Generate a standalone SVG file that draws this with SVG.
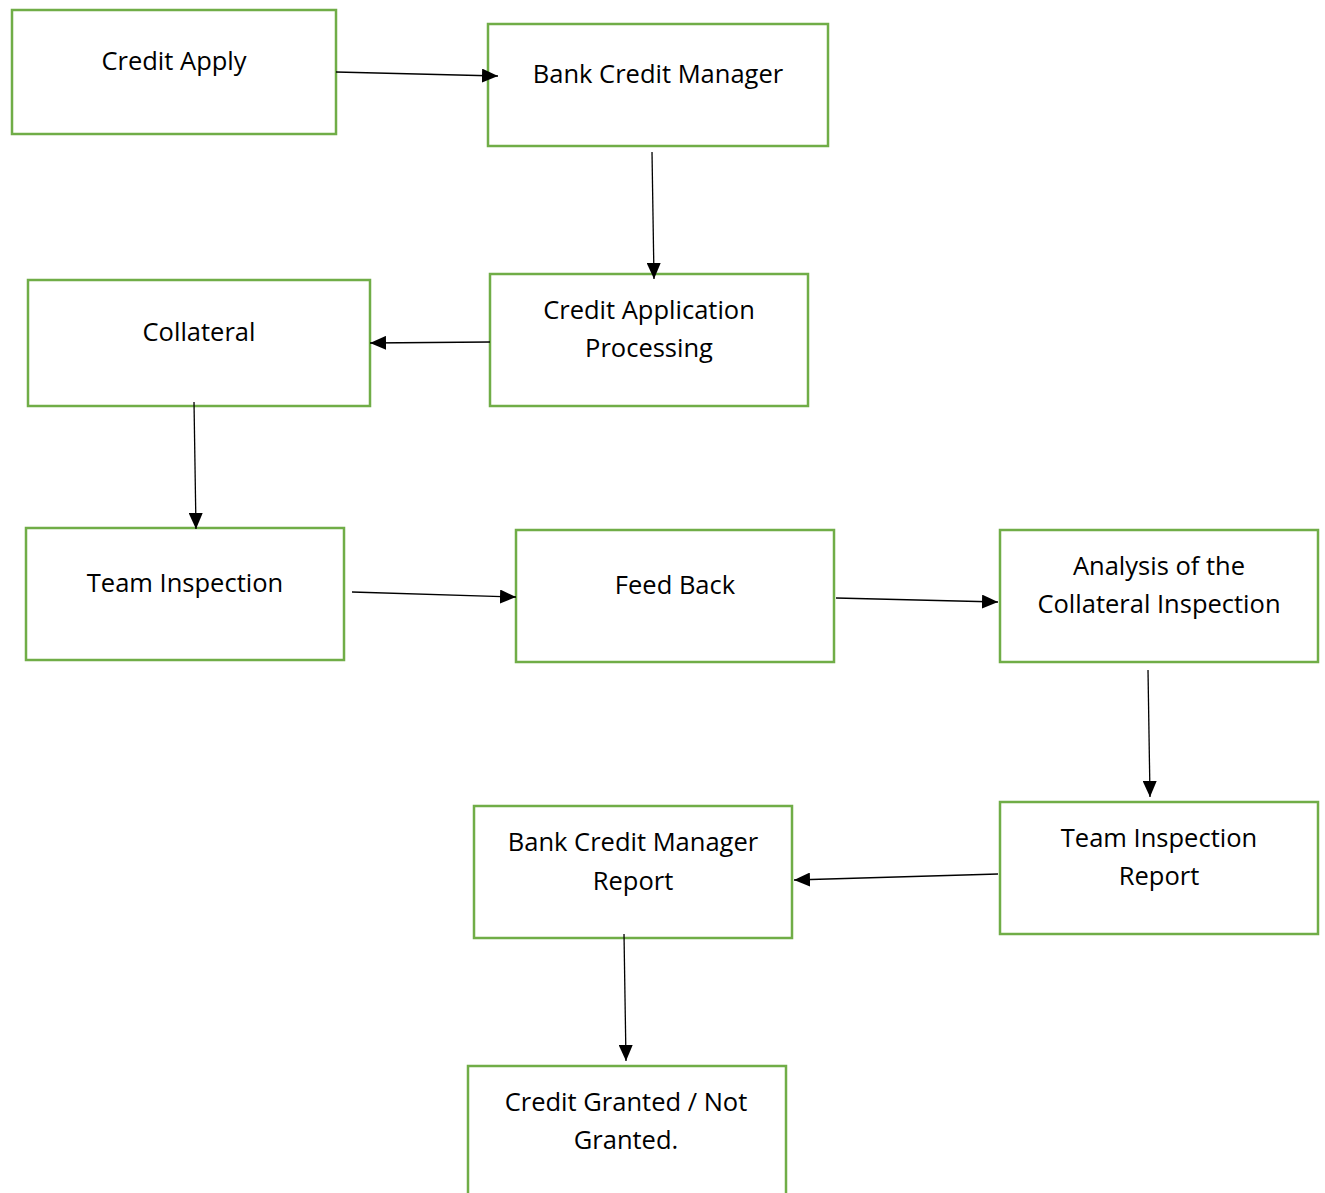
<svg xmlns="http://www.w3.org/2000/svg" width="1325" height="1193" viewBox="0 0 1325 1193">
<style>
.box{fill:#fff;stroke:#70AD47;stroke-width:2.5}
.t{font-family:"Open Sans","Noto Sans",sans-serif;font-size:25.5px;fill:#000;text-anchor:middle}
.c{stroke:#000;stroke-width:1.3;fill:none;marker-end:url(#ah)}
</style>
<defs>
<marker id="ah" markerUnits="userSpaceOnUse" markerWidth="16" markerHeight="14" refX="16" refY="7" orient="auto">
<path d="M0,0 L16,7 L0,14 Z" fill="#000"/>
</marker>
</defs>
<rect width="1325" height="1193" fill="#fff"/>
<g id="n1"><rect class="box" x="12" y="10" width="324" height="124"/><text class="t" x="174" y="70">Credit Apply</text></g>
<g id="n2"><rect class="box" x="488" y="24" width="340" height="122"/><text class="t" x="658" y="83">Bank Credit Manager</text></g>
<g id="n3"><rect class="box" x="490" y="274" width="318" height="132"/><text class="t" x="649" y="319">Credit Application</text><text class="t" x="649" y="357">Processing</text></g>
<g id="n4"><rect class="box" x="28" y="280" width="342" height="126"/><text class="t" x="199" y="341">Collateral</text></g>
<g id="n5"><rect class="box" x="26" y="528" width="318" height="132"/><text class="t" x="185" y="592">Team Inspection</text></g>
<g id="n6"><rect class="box" x="516" y="530" width="318" height="132"/><text class="t" x="675" y="594">Feed Back</text></g>
<g id="n7"><rect class="box" x="1000" y="530" width="318" height="132"/><text class="t" x="1159" y="575">Analysis of the</text><text class="t" x="1159" y="613">Collateral Inspection</text></g>
<g id="n8"><rect class="box" x="1000" y="802" width="318" height="132"/><text class="t" x="1159" y="847">Team Inspection</text><text class="t" x="1159" y="885">Report</text></g>
<g id="n9"><rect class="box" x="474" y="806" width="318" height="132"/><text class="t" x="633" y="851">Bank Credit Manager</text><text class="t" x="633" y="890">Report</text></g>
<g id="n10"><rect class="box" x="468" y="1066" width="318" height="140"/><text class="t" x="626" y="1111">Credit Granted / Not</text><text class="t" x="626" y="1149">Granted.</text></g>
<g id="connectors">
<line class="c" x1="336" y1="72" x2="498" y2="76"/>
<line class="c" x1="652" y1="152" x2="654" y2="279"/>
<line class="c" x1="490" y1="342" x2="370" y2="343"/>
<line class="c" x1="194" y1="402" x2="196" y2="529"/>
<line class="c" x1="352" y1="592" x2="516" y2="597"/>
<line class="c" x1="836" y1="598" x2="998" y2="602"/>
<line class="c" x1="1148" y1="670" x2="1150" y2="797"/>
<line class="c" x1="998" y1="874" x2="794" y2="880"/>
<line class="c" x1="624" y1="934" x2="626" y2="1061"/>
</g>
</svg>
